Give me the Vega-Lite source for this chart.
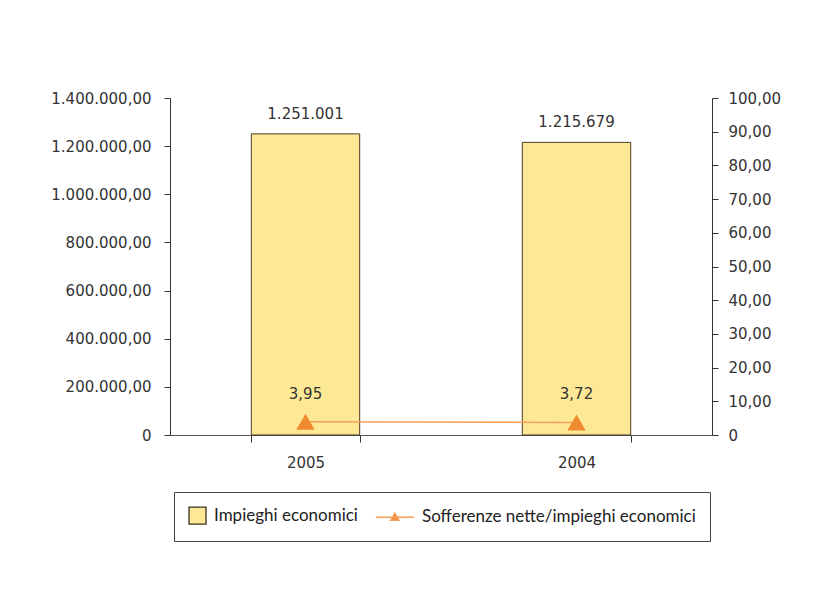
{
  "$schema": "https://vega.github.io/schema/vega-lite/v6.json",
  "width": 542,
  "height": 337,
  "autosize": {"type": "none"},
  "padding": {"left": 170, "top": 98, "right": 101, "bottom": 175},
  "background": "white",
  "config": {
    "locale": {"number": {"decimal": ",", "thousands": ".", "grouping": [3], "currency": ["€", ""]}},
    "view": {"stroke": null},
    "axis": {"labelFont": "DejaVu Sans", "labelFontSize": 15, "labelColor": "#333333", "domainColor": "#333333", "tickColor": "#333333", "grid": false, "title": null, "labelOverlap": false},
    "legend": {
      "orient": "none", "legendX": 4, "legendY": 394, "direction": "horizontal",
      "strokeColor": "#444444", "padding": 14,
      "labelFont": "Lato", "labelFontSize": 17, "labelColor": "#222222", "labelLimit": 400,
      "labelOffset": 7, "columnPadding": 15, "symbolSize": 289, "symbolStrokeWidth": 1.3
    }
  },
  "data": {
    "values": [
      {"anno": "2005", "impieghi": 1251001, "sofferenze": 3.95},
      {"anno": "2004", "impieghi": 1215679, "sofferenze": 3.72}
    ]
  },
  "encoding": {
    "x": {
      "field": "anno", "type": "nominal", "sort": ["2005", "2004"],
      "scale": {"paddingInner": 0.6, "paddingOuter": 0.3},
      "axis": {"labelAngle": 0, "tickBand": "extent", "tickSize": 7, "labelPadding": 13, "domainColor": "#555555", "labelFont": "DejaVu Sans", "labelFontSize": 15}
    }
  },
  "layer": [
    {
      "encoding": {
        "y": {"field": "impieghi", "type": "quantitative",
          "scale": {"domain": [0, 1400000]},
          "axis": {"orient": "left", "values": [0, 200000, 400000, 600000, 800000, 1000000, 1200000, 1400000], "format": ",.2f", "labelExpr": "datum.value == 0 ? '0' : datum.label", "tickSize": 6, "labelPadding": 13, "labelFont": "DejaVu Sans", "labelFontSize": 15}}
      },
      "layer": [
        {
          "mark": {"type": "bar", "stroke": "#4a3b22", "strokeWidth": 1},
          "encoding": {
            "fill": {"datum": "Impieghi economici", "type": "nominal",
              "scale": {"domain": ["Impieghi economici", "Sofferenze nette/impieghi economici"], "range": ["#FDE995", "#F08A2E"]},
              "legend": {"title": null}}
          }
        },
        {
          "mark": {"type": "text", "font": "DejaVu Sans", "fontSize": 15, "color": "#333333", "dy": -15, "baseline": "alphabetic"},
          "encoding": {
            "text": {"field": "impieghi", "type": "quantitative", "format": ",d"}
          }
        },
        {
          "transform": [{"filter": "false"}],
          "mark": {"type": "point", "filled": true, "opacity": 1},
          "encoding": {
            "fill": {"datum": "Impieghi economici", "type": "nominal", "legend": {"title": null}},
            "stroke": {"datum": "Impieghi economici", "type": "nominal",
              "scale": {"domain": ["Impieghi economici", "Sofferenze nette/impieghi economici"], "range": ["#3a3020", "#F5A05A"]},
              "legend": {"title": null}},
            "shape": {"datum": "Impieghi economici", "type": "nominal",
              "scale": {"domain": ["Impieghi economici", "Sofferenze nette/impieghi economici"], "range": ["square", "M-3.5,0H1M-1.25,-0.5L-0.75,0.35L-1.75,0.35Z"]},
              "legend": {"title": null}}
          }
        }
      ]
    },
    {
      "encoding": {
        "y": {"field": "sofferenze", "type": "quantitative",
          "scale": {"domain": [0, 100]},
          "axis": {"orient": "right", "values": [0, 10, 20, 30, 40, 50, 60, 70, 80, 90, 100], "format": ".2f", "labelExpr": "datum.value == 0 ? '0' : datum.label", "tickSize": 6, "labelPadding": 10, "labelFont": "DejaVu Sans", "labelFontSize": 15}}
      },
      "layer": [
        {
          "mark": {"type": "line", "strokeWidth": 1.5, "color": "#F5A05A"}
        },
        {
          "mark": {"type": "point", "shape": "triangle-up", "filled": true, "size": 340, "opacity": 1, "color": "#F08A2E"}
        },
        {
          "mark": {"type": "text", "font": "DejaVu Sans", "fontSize": 15, "color": "#333333", "dy": -23, "baseline": "alphabetic"},
          "encoding": {
            "text": {"field": "sofferenze", "type": "quantitative", "format": ".2f"}
          }
        }
      ]
    }
  ],
  "resolve": {"scale": {"y": "independent"}}
}
